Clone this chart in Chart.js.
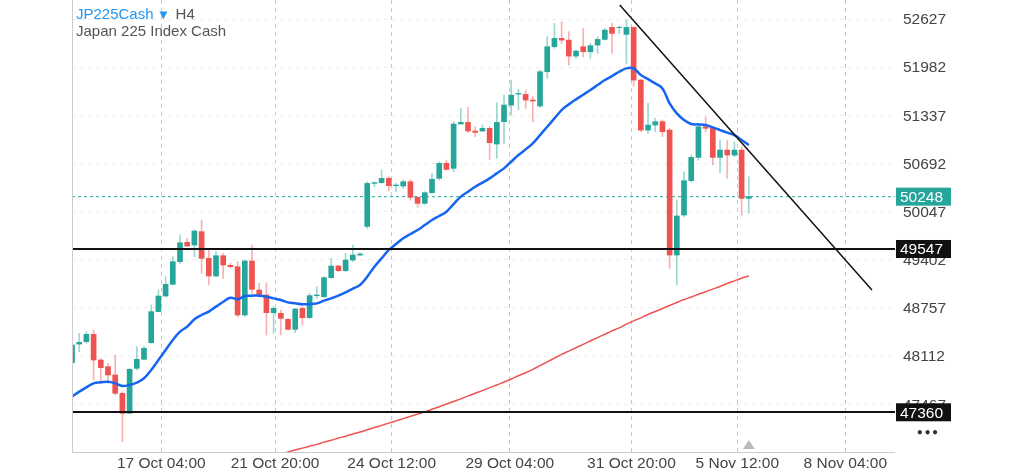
<!DOCTYPE html>
<html><head><meta charset="utf-8">
<script src="https://cdn.jsdelivr.net/npm/chart.js@4/dist/chart.umd.min.js"></script>
<style>html,body{margin:0;padding:0;background:#fff}#w{width:1024px;height:472px;position:relative}</style>
</head><body><div id="w"><canvas id="c"></canvas></div>
<script>
const opens=[48024,48274,48306,48404,48060,47971,47860,47614,47346,47949,48069,48292,48708,48917,49074,49377,49636,49600,49779,49422,49185,49457,49328,49310,48663,49386,48998,48931,48694,48685,48605,48471,48752,48627,48922,48908,49163,49319,49257,49399,49466,49849,50426,50435,50493,50395,50390,50448,50239,50158,50301,50493,50694,50627,51221,51243,51127,51127,51163,50953,51252,51475,51622,51618,51542,51462,51921,52256,52368,52345,52131,52256,52189,52278,52354,52515,52511,52421,52515,51810,51140,51207,51252,51140,49466,50002,50462,50774,51185,51163,50774,50872,50805,50872,50225];
const highs=[48265,48417,48440,48462,48083,48016,48127,47636,47949,48239,48239,48797,48998,49176,49444,49734,49690,49801,49935,49556,49511,49489,49355,49377,49399,49600,49087,49096,48775,48730,48618,48752,48775,48953,49042,49176,49422,49332,49489,49600,49498,50448,50448,50605,50515,50426,50471,50471,50248,50315,50560,50716,50738,51252,51430,51444,51185,51207,51185,51506,51609,51810,51685,51676,51587,51944,52390,52569,52591,52457,52211,52502,52301,52390,52502,52569,52533,52613,52524,51819,51497,51297,51274,51163,50203,50582,50805,51229,51319,51185,51006,51006,50984,50917,50515];
const lows=[48016,48172,48283,47793,47748,47748,47592,46967,47346,47926,48060,48283,48708,48908,49065,49355,49578,49444,49221,49065,49176,49154,49288,48641,48641,48953,48908,48395,48417,48395,48462,48426,48529,48618,48886,48895,49154,49243,49243,49377,49453,49823,50381,50426,50328,50315,50359,50203,50105,50149,50292,50471,50605,50582,51221,51104,51051,51118,50747,50761,50962,51341,51408,51430,51252,51444,51832,52234,52301,52011,52100,52122,52100,52167,52345,52167,52435,52033,51729,51118,51096,51118,51051,49288,49065,49980,50448,50738,51118,50672,50569,50493,50783,50002,50024];
const closes=[48261,48297,48404,48060,47958,47860,47614,47346,47935,48069,48217,48708,48917,49074,49377,49631,49587,49788,49422,49185,49457,49332,49310,48663,49386,49007,48931,48694,48752,48618,48471,48743,48627,48922,48931,49163,49319,49257,49399,49466,49480,50426,50435,50493,50395,50404,50448,50239,50158,50301,50480,50694,50613,51221,51243,51127,51109,51163,50971,51243,51475,51609,51631,51542,51529,51921,52256,52368,52345,52131,52198,52189,52270,52354,52479,52435,52515,52515,51810,51140,51207,51252,51118,49466,49989,50462,50774,51185,51163,50774,50872,50805,50872,50225,50248];
const maFast=[47569,47636,47694,47748,47761,47770,47748,47712,47726,47757,47815,47926,48060,48194,48328,48440,48507,48605,48663,48708,48775,48841,48895,48873,48917,48922,48922,48908,48886,48864,48832,48819,48806,48810,48819,48855,48886,48922,48966,49016,49065,49176,49310,49422,49534,49614,49690,49748,49801,49868,49935,49989,50047,50149,50248,50314,50381,50435,50493,50560,50627,50716,50805,50881,50962,51073,51185,51296,51408,51484,51551,51613,51676,51743,51810,51863,51921,51966,51966,51877,51823,51765,51698,51497,51363,51274,51221,51216,51207,51176,51140,51105,51073,51006,50939];
const maSlowStart=30;
const maSlow=[46800,46830,46855,46880,46905,46930,46960,46985,47015,47040,47070,47095,47125,47155,47185,47215,47245,47275,47305,47335,47365,47400,47435,47470,47505,47540,47580,47615,47650,47690,47725,47765,47805,47850,47890,47935,47985,48035,48085,48135,48180,48225,48270,48315,48360,48405,48450,48490,48540,48585,48625,48670,48710,48750,48790,48830,48870,48905,48940,48975,49010,49045,49085,49120,49155,49185];
const yTicks=[52627,51982,51337,50692,50047,49402,48757,48112,47467];
const xTickIdx=[13.4,29.2,45.4,61.8,78.7,93.4,108.4];
const xTickLabels=['17 Oct 04:00','21 Oct 20:00','24 Oct 12:00','29 Oct 04:00','31 Oct 20:00','5 Nov 12:00','8 Nov 04:00'];
const levels=[49547,47360];
const lastPrice=50248;
const trend=[{x:77.07,y:52814},{x:112.1,y:48998}];

const G='#26a69a',R='#ef5350';
const idx=opens.map((_,i)=>i+1);
const isUp=opens.map((o,i)=>closes[i]>=o);
const wicks=idx.map((x,i)=>({x,y:[lows[i],highs[i]]}));
const bodies=idx.map((x,i)=>({x,y:[opens[i],closes[i]===opens[i]?opens[i]+6:closes[i]]}));
const F='"Liberation Sans", Arial';

const overlay={id:'overlay',
 beforeDatasetsDraw(ch){const {ctx,chartArea:a,scales:{x,y}}=ch;ctx.save();
  ctx.strokeStyle=G;ctx.setLineDash([3,3]);ctx.lineWidth=1;
  const py=y.getPixelForValue(lastPrice);ctx.beginPath();ctx.moveTo(a.left,py);ctx.lineTo(a.right,py);ctx.stroke();
  ctx.restore();},
 afterDatasetsDraw(ch){const {ctx,chartArea:a,scales:{x,y}}=ch;ctx.save();
  ctx.strokeStyle='#111';ctx.lineWidth=2;
  levels.forEach(v=>{const py=Math.round(y.getPixelForValue(v));ctx.beginPath();ctx.moveTo(a.left,py);ctx.lineTo(a.right,py);ctx.stroke();});
  ctx.restore();},
 afterDraw(ch){const {ctx,chartArea:a,scales:{x,y}}=ch;ctx.save();
  ctx.font='15.5px '+F;ctx.textBaseline='middle';ctx.fillStyle='#444';
  yTicks.forEach(v=>ctx.fillText(String(v),a.right+8,y.getPixelForValue(v)+1));
  const box=(v,bg)=>{const py=y.getPixelForValue(v);ctx.fillStyle=bg;ctx.fillRect(a.right+1,py-9,55,18);ctx.fillStyle='#fff';ctx.fillText(String(v),a.right+5,py+1);};
  levels.forEach(v=>box(v,'#111'));box(lastPrice,G);
  ctx.font='15px '+F;ctx.textBaseline='alphabetic';
  ctx.fillStyle='#2196f3';ctx.fillText('JP225Cash',a.left+4,19);
  let w=ctx.measureText('JP225Cash').width;
  ctx.font='10px "DejaVu Sans"';ctx.fillText('▼',a.left+4+w+6,18);
  ctx.font='15px '+F;ctx.fillStyle='#555';ctx.fillText('H4',a.left+4+w+22,19);
  ctx.fillText('Japan 225 Index Cash',a.left+4,36);
  ctx.fillStyle='#333';ctx.font='bold 12px "DejaVu Sans"';ctx.fillText('•••',a.right+21,437);
  const tx=x.getPixelForValue(95);ctx.fillStyle='#bbb';ctx.beginPath();ctx.moveTo(tx-6,a.bottom-3);ctx.lineTo(tx+6,a.bottom-3);ctx.lineTo(tx,a.bottom-12);ctx.closePath();ctx.fill();
  ctx.strokeStyle='#ccc';ctx.lineWidth=1;ctx.beginPath();ctx.moveTo(a.left+0.5,a.top);ctx.lineTo(a.left+0.5,a.bottom+0.5);ctx.lineTo(a.right,a.bottom+0.5);ctx.stroke();
  ctx.restore();}};

new Chart(document.getElementById('c'),{
 data:{datasets:[
  {type:'bar',data:wicks,backgroundColor:isUp.map(u=>u?'rgba(38,166,154,0.45)':'rgba(239,83,80,0.45)'),barThickness:1,grouped:false,order:5},
  {type:'bar',data:bodies,backgroundColor:isUp.map(u=>u?G:R),barThickness:5,grouped:false,order:4},
  {type:'line',data:maFast.map((v,i)=>({x:i+1,y:v})),borderColor:'#1565f0',borderWidth:2.5,pointRadius:0,tension:0.4,order:2},
  {type:'line',data:maSlow.map((v,i)=>({x:i+maSlowStart,y:v})),borderColor:'#ef5350',borderWidth:1.5,pointRadius:0,tension:0.4,order:3},
  {type:'line',data:trend,borderColor:'#111',borderWidth:1.5,pointRadius:0,order:1}
 ]},
 options:{responsive:true,maintainAspectRatio:false,animation:false,
  layout:{padding:{left:72,top:0,right:0,bottom:0}},
  plugins:{legend:{display:false},tooltip:{enabled:false}},
  scales:{
   x:{type:'linear',min:1,max:115.3,offset:false,
    afterBuildTicks(s){s.ticks=xTickIdx.map(v=>({value:v}));},
    ticks:{callback:(v,i)=>xTickLabels[i],color:'#444',font:{size:15.5,family:F},maxRotation:0,autoSkip:false,padding:2},
    grid:{offset:false,color:'#c8c8c8',drawTicks:false,tickLength:0},border:{display:false,dash:[4,4]},
    afterFit(s){s.height=20;}},
   y:{position:'right',min:46828,max:52882,
    afterBuildTicks(s){s.ticks=yTicks.map(v=>({value:v}));},
    ticks:{display:false},
    grid:{color:'#eee',drawTicks:false},border:{display:false,dash:[4,4]},
    afterFit(s){s.width=129;}}
  }},
 plugins:[overlay]});
</script></body></html>
